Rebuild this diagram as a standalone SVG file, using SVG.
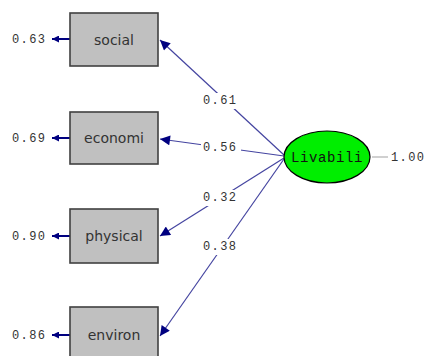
<svg xmlns="http://www.w3.org/2000/svg" width="428" height="356" viewBox="0 0 428 356">
<defs>
<style>
.box{fill:#c0c0c0;stroke:#404040;stroke-width:1.6}
.obs{font-family:"DejaVu Sans",Verdana,sans-serif;font-size:14px;fill:#333;text-anchor:middle;dominant-baseline:central}
.num{font-family:"Liberation Mono","Courier New",monospace;font-size:12px;fill:#333;letter-spacing:1.4px;dominant-baseline:central}
.path{stroke:#4444a0;stroke-width:1.2;fill:none;marker-end:url(#ah)}
.err{stroke:#000080;stroke-width:2;fill:none;marker-end:url(#eh)}
.lab{fill:#fff}
</style>
<marker id="ah" viewBox="0 0 10 10" refX="10" refY="5" markerWidth="13" markerHeight="10" markerUnits="userSpaceOnUse" orient="auto"><path d="M0,0L10,5L0,10z" fill="#000080"/></marker>
<marker id="eh" viewBox="0 0 10 10" refX="10" refY="5" markerWidth="7" markerHeight="7" markerUnits="userSpaceOnUse" orient="auto"><path d="M0,0L10,5L0,10z" fill="#000080"/></marker>
</defs>
<rect width="428" height="356" fill="#fff"/>
<g id="connectors">
<line class="path" x1="284" y1="155" x2="160" y2="40"/>
<line class="path" x1="284" y1="156" x2="160" y2="139"/>
<line class="path" x1="284" y1="158" x2="160" y2="236"/>
<line class="path" x1="284" y1="159" x2="160" y2="336"/>
<line class="err" x1="70" y1="39" x2="52" y2="39"/>
<line class="err" x1="70" y1="138" x2="52" y2="138"/>
<line class="err" x1="70" y1="236" x2="52" y2="236"/>
<line class="err" x1="70" y1="335" x2="52" y2="335"/>
<line x1="372" y1="157" x2="388" y2="157" stroke="#c0c0c0" stroke-width="1.5"/>
<rect class="lab" x="201" y="93" width="40" height="16"/>
<text class="num" x="203" y="101">0.61</text>
<rect class="lab" x="201" y="140" width="40" height="16"/>
<text class="num" x="203" y="148">0.56</text>
<rect class="lab" x="201" y="190" width="40" height="16"/>
<text class="num" x="203" y="198">0.32</text>
<rect class="lab" x="201" y="239" width="40" height="16"/>
<text class="num" x="203" y="247">0.38</text>
<text class="num" x="12" y="40">0.63</text>
<text class="num" x="12" y="139">0.69</text>
<text class="num" x="12" y="237">0.90</text>
<text class="num" x="12" y="336">0.86</text>
<text class="num" x="391" y="158">1.00</text>
</g>
<g id="social"><rect class="box" x="70" y="13" width="88" height="53"/><text class="obs" x="114" y="40">social</text></g>
<g id="economi"><rect class="box" x="70" y="112" width="88" height="52"/><text class="obs" x="114" y="138">economi</text></g>
<g id="physical"><rect class="box" x="70" y="209" width="88" height="54"/><text class="obs" x="114" y="236">physical</text></g>
<g id="environ"><rect class="box" x="70" y="307" width="88" height="55"/><text class="obs" x="114" y="335">environ</text></g>
<g id="livabili"><ellipse cx="327" cy="157" rx="43" ry="26" fill="#00ee00" stroke="#000" stroke-width="1.2"/><text x="327" y="158" font-family="'Liberation Mono','Courier New',monospace" font-size="14px" fill="#111" text-anchor="middle" dominant-baseline="central" letter-spacing="0.6px">Livabili</text></g>
</svg>
